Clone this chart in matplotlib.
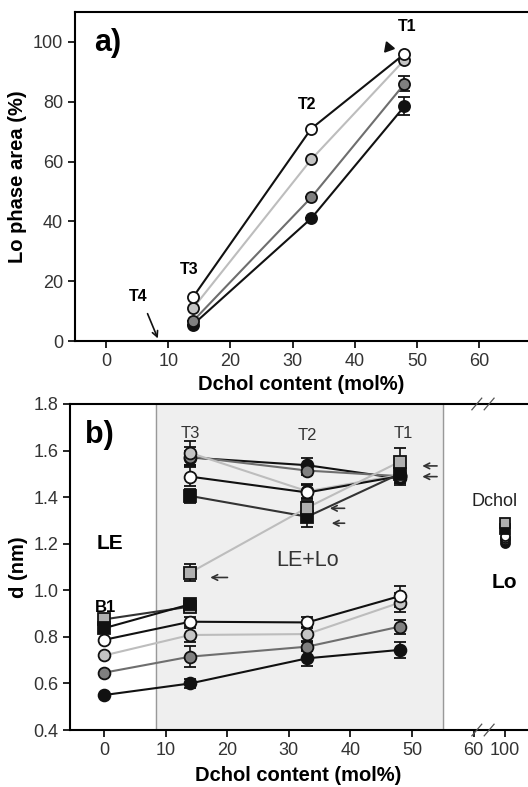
import matplotlib.pyplot as plt

plt.rcParams['font.family'] = ['Liberation Sans', 'DejaVu Sans']

# panel a) Lo phase area
xa = [14, 33, 48]
a_white = [14.7, 71, 96]
a_light = [11, 60.7, 94]
a_mid = [6.7, 48, 86]
a_black = [5.5, 41, 78.5]
a_mid_err = [0, 0, 2.5]
a_black_err = [0, 0, 3]

# panel b) thickness difference d
xb = [0, 14, 33, 48]
low_black = [0.55, 0.60, 0.708, 0.744]
low_black_err = [0, 0.02, 0.035, 0.035]
low_mid = [0.646, 0.715, 0.758, 0.844]
low_mid_err = [0, 0.045, 0.02, 0.03]
low_light = [0.72, 0.808, 0.812, 0.947]
low_light_err = [0, 0.03, 0.03, 0.04]
low_white = [0.787, 0.865, 0.862, 0.975]
low_white_err = [0, 0.02, 0.025, 0.045]

xb_sq = [0, 14]
low_sq_black = [0.837, 0.94]
low_sq_gray = [0.875, 0.93]

xu = [14, 33, 48]
up_black = [1.57, 1.537, 1.48]
up_mid = [1.574, 1.514, 1.49]
up_light = [1.59, 1.425, 1.495]
up_white = [1.488, 1.42, 1.49]
up_sq_black = [1.405, 1.316, 1.50]
up_sq_black_err = [0.03, 0.045, 0.04]
up_sq_gray = [1.076, 1.355, 1.552]
up_sq_gray_err = [0.035, 0.03, 0.06]

dchol_x = 65  # drawn at the "100" tick after the axis break
dchol_circ = [1.205, 1.215, 1.225, 1.235]
dchol_sq = [1.262, 1.287]

BLACK = '#111111'
MID = '#808080'
LIGHT = '#c4c4c4'
WHITE = 'white'
SQGRAY = '#b0b0b0'
LMID = '#6e6e6e'
LLIGHT = '#bdbdbd'

fig = plt.figure(figsize=(5.28, 7.87), dpi=100)
ax1 = fig.add_axes([0.142, 0.5667, 0.856, 0.418])
ax2 = fig.add_axes([0.1326, 0.0724, 0.865, 0.4143])


def series(ax, x, y, face, line, err=None, marker='o', ms=8, z=3):
    ax.errorbar(x, y, yerr=err, color=line, lw=1.5, marker=marker, ms=ms,
                mfc=face, mec=BLACK, mew=1.3, ecolor=BLACK, elinewidth=1.2,
                capsize=4, capthick=1.2, zorder=z)


# ---- a)
series(ax1, xa, a_black, BLACK, BLACK, a_black_err, ms=8)
series(ax1, xa, a_mid, MID, LMID, a_mid_err, ms=8)
series(ax1, xa, a_light, LIGHT, LLIGHT, ms=8)
series(ax1, xa, a_white, WHITE, BLACK, ms=8)

ax1.set_xlim(-5, 67.7)
ax1.set_ylim(0, 110)
ax1.set_xticks(range(0, 70, 10))
ax1.set_yticks(range(0, 120, 20))
ax1.set_xlabel('Dchol content (mol%)', fontsize=14.5, fontweight='bold', labelpad=4)
ax1.set_ylabel('Lo phase area (%)', fontsize=14.5, fontweight='bold', labelpad=4)
ax1.spines['right'].set_visible(False)
ax1.tick_params(labelsize=13, labelcolor='#333333', direction='out', length=5, width=1.2)
for s in ax1.spines.values():
    s.set_linewidth(1.5)

ax1.text(-2.0, 99.5, 'a)', fontsize=22, fontweight='bold', va='center')
ax1.text(48.5, 103.5, 'T1', fontsize=11.5, fontweight='bold', ha='center')
ax1.text(32.3, 77.5, 'T2', fontsize=11.5, fontweight='bold', ha='center')
ax1.text(13.3, 22.5, 'T3', fontsize=11.5, fontweight='bold', ha='center')
ax1.text(5.2, 13.5, 'T4', fontsize=11.5, fontweight='bold', ha='center')
ax1.annotate('', xy=(8.5, 0), xytext=(6.5, 10),
             arrowprops=dict(arrowstyle='->', color=BLACK, lw=1.2))
ax1.plot([45.3], [98.2], marker=(3, 0, -100), ms=8.5, color=BLACK, lw=0)

# ---- b)
ax2.axvspan(8.4, 55, color='#efefef', zorder=0)
ax2.axvline(8.4, color='#999999', lw=1, zorder=1)
ax2.axvline(55, color='#999999', lw=1, zorder=1)

series(ax2, xb, low_black, BLACK, BLACK, low_black_err, ms=8.5)
series(ax2, xb, low_mid, MID, LMID, low_mid_err, ms=8.5)
series(ax2, xb, low_light, LIGHT, LLIGHT, low_light_err, ms=8.5)
series(ax2, xb, low_white, WHITE, BLACK, low_white_err, ms=8.5)
series(ax2, xb_sq, low_sq_gray, SQGRAY, '#333333', marker='s', ms=8)
series(ax2, xb_sq, low_sq_black, BLACK, BLACK, marker='s', ms=8)

series(ax2, xu, up_black, BLACK, BLACK, [0.03, 0.03, 0.03], ms=8.5)
series(ax2, xu, up_mid, MID, LMID, [0.04, 0.02, 0.03], ms=8.5)
series(ax2, xu, up_light, LIGHT, LLIGHT, [0.05, 0.03, 0.03], ms=8.5)
series(ax2, xu, up_white, WHITE, BLACK, [0.04, 0.03, 0.03], ms=8.5)
series(ax2, xu, up_sq_black, BLACK, '#333333', up_sq_black_err, marker='s', ms=8)
series(ax2, xu, up_sq_gray, SQGRAY, LLIGHT, up_sq_gray_err, marker='s', ms=8)

for y, fc in zip(dchol_circ, [BLACK, MID, LIGHT, WHITE]):
    ax2.plot([dchol_x], [y], marker='o', ms=6.5, mfc=fc, mec=BLACK, mew=1.3, lw=0, zorder=4)
for y, fc in zip(dchol_sq, [BLACK, SQGRAY]):
    ax2.plot([dchol_x], [y], marker='s', ms=6.5, mfc=fc, mec=BLACK, mew=1.3, lw=0, zorder=4)

ax2.set_xlim(-5.5, 68.6)
ax2.set_ylim(0.4, 1.8)
ax2.set_xticks([0, 10, 20, 30, 40, 50, 60, 65])
ax2.set_xticklabels(['0', '10', '20', '30', '40', '50', '60', '100'])
ax2.set_yticks([0.4, 0.6, 0.8, 1.0, 1.2, 1.4, 1.6, 1.8])
ax2.set_yticklabels(['0.4', '0.6', '0.8', '1.0', '1.2', '1.4', '1.6', '1.8'])
ax2.set_xlabel('Dchol content (mol%)', fontsize=14.5, fontweight='bold', labelpad=5)
ax2.set_ylabel('d (nm)', fontsize=14.5, fontweight='bold', labelpad=4)
ax2.spines['right'].set_visible(False)
ax2.tick_params(labelsize=13, labelcolor='#333333', direction='out', length=5, width=1.2)
for s in ax2.spines.values():
    s.set_linewidth(1.5)

# axis break marks
for xx in (60.5, 62.5):
    for yy in (0.4, 1.8):
        ax2.plot([xx - 0.8, xx + 0.8], [yy - 0.025, yy + 0.025], color='#555555',
                 lw=0.9, clip_on=False, zorder=6)

ax2.text(-3.0, 1.665, 'b)', fontsize=22, fontweight='bold', va='center')
ax2.text(14, 1.655, 'T3', fontsize=12, ha='center', color='#333333')
ax2.text(33, 1.645, 'T2', fontsize=12, ha='center', color='#333333')
ax2.text(48.5, 1.655, 'T1', fontsize=12, ha='center', color='#333333')
ax2.text(0.2, 0.905, 'B1', fontsize=12, fontweight='bold', ha='center')
ax2.text(1, 1.2, 'LE', fontsize=15, fontweight='bold', ha='center', va='center')
ax2.text(33, 1.13, 'LE+Lo', fontsize=15.5, ha='center', va='center', color='#333333')
ax2.text(65, 1.035, 'Lo', fontsize=15, fontweight='bold', ha='center', va='center')
ax2.text(59.6, 1.38, 'Dchol', fontsize=13, ha='left', va='center', color='#222222',
         clip_on=False)

arrow = dict(arrowstyle='->', color='#333333', lw=1.2)
for (x0, x1, y) in [(54.5, 51.2, 1.534), (54.5, 51.2, 1.488),
                    (39.5, 36.2, 1.352), (39.5, 36.5, 1.288),
                    (20.5, 16.8, 1.055)]:
    ax2.annotate('', xy=(x1, y), xytext=(x0, y), arrowprops=arrow)

fig.savefig('out.png', dpi=100)
